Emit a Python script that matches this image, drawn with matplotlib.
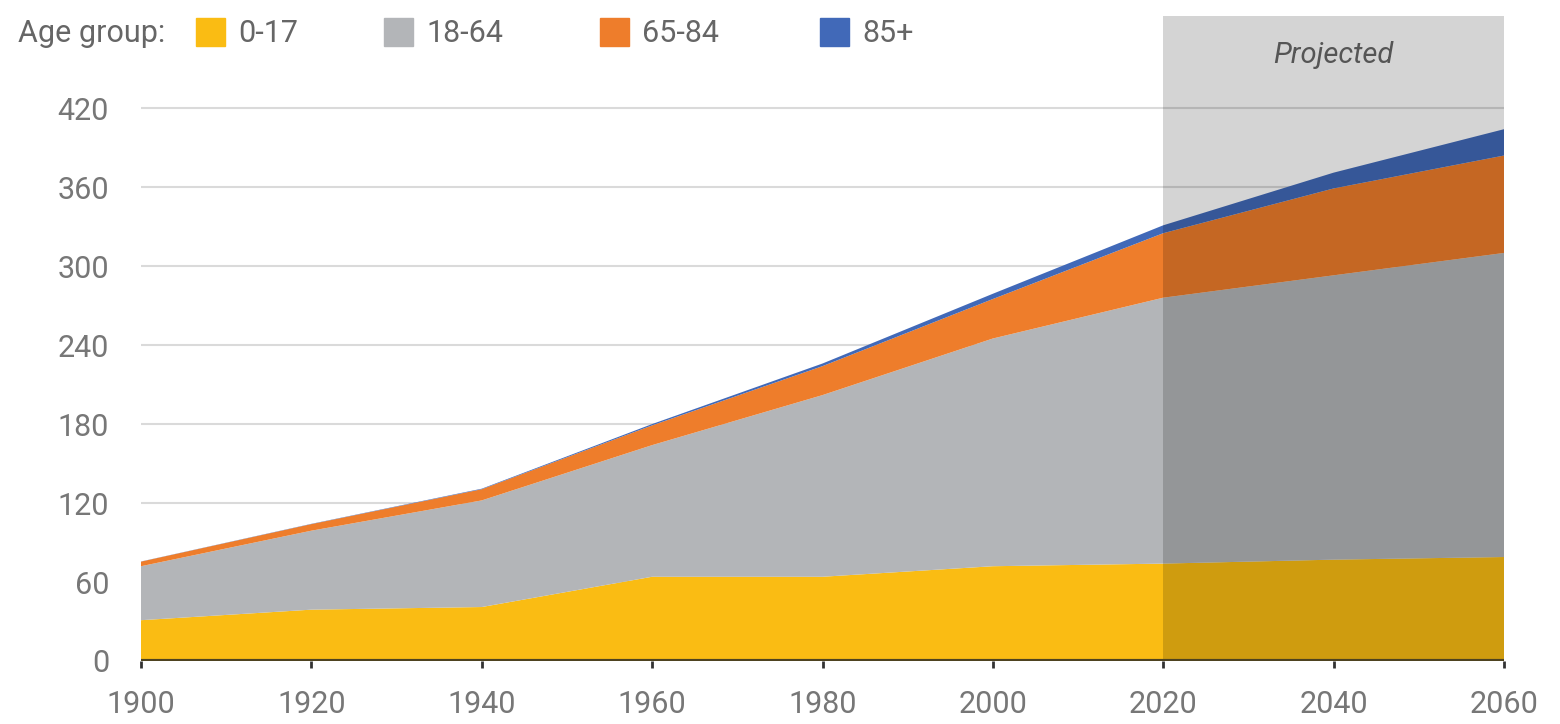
import matplotlib
matplotlib.use("Agg")
import matplotlib.pyplot as plt
from matplotlib.patches import Rectangle

plt.rcParams['font.family'] = ['Roboto', 'DejaVu Sans']

years = [1900, 1920, 1940, 1960, 1980, 2000, 2020, 2040, 2060]
age_0_17 = [31, 39, 41, 64, 64, 72, 74, 77, 79]
age_18_64 = [41, 60, 81, 100, 138, 173, 202, 216, 231]
age_65_84 = [3.5, 5, 8.5, 15, 22, 30, 49, 66, 74]
age_85 = [0.1, 0.2, 0.4, 1, 2, 4, 6, 12, 20]

groups = ["0-17", "18-64", "65-84", "85+"]
colors = ["#fabc13", "#b3b5b8", "#ee7d2b", "#4169b8"]
yticks = [0, 60, 120, 180, 240, 300, 360, 420]
xticks = [1900, 1920, 1940, 1960, 1980, 2000, 2020, 2040, 2060]
proj_start, proj_end = 2020, 2060

W, H = 1560, 724
fig = plt.figure(figsize=(W / 100, H / 100), dpi=100)
ax = fig.add_axes([141 / W, 1 - 661 / H, (1504 - 141) / W, (661 - 16) / H])

ax.stackplot(years, age_0_17, age_18_64, age_65_84, age_85,
             colors=colors, linewidth=0, zorder=2)

ax.set_xlim(1900, 2060)
ax.set_ylim(0, 490)
for y in yticks[1:]:
    ax.axhline(y, color="#dadada", lw=1.5, zorder=1)

# projected shading over the data
ax.axvspan(proj_start, proj_end, color="black", alpha=0.17, lw=0, zorder=3)
ax.text((proj_start + proj_end) / 2, 460, "Projected", ha="center", va="center",
        fontsize=21, style="italic", color="#555555", zorder=4)

ax.axhline(0, color="#4e4320", lw=3, zorder=5)

for s in ax.spines.values():
    s.set_visible(False)
ax.set_yticks(yticks)
ax.set_xticks(xticks)
ax.tick_params(axis="y", length=0, pad=23, labelsize=22, labelcolor="#777777")
ax.tick_params(axis="x", length=5, width=2, color="#333333", pad=16,
               labelsize=22, labelcolor="#777777")

# legend row
fig.text(18 / W, 1 - 33 / H, "Age group:", ha="left", va="center",
         fontsize=22, color="#666666")
px = [196, 384, 600, 820]
for x0, c, g in zip(px, colors, groups):
    fig.patches.append(Rectangle((x0 / W, 1 - 46 / H), 29 / W, 28 / H,
                                 transform=fig.transFigure, color=c))
    fig.text((x0 + 42) / W, 1 - 33 / H, g, ha="left", va="center",
             fontsize=22, color="#666666")

fig.savefig("out.png", dpi=100)
